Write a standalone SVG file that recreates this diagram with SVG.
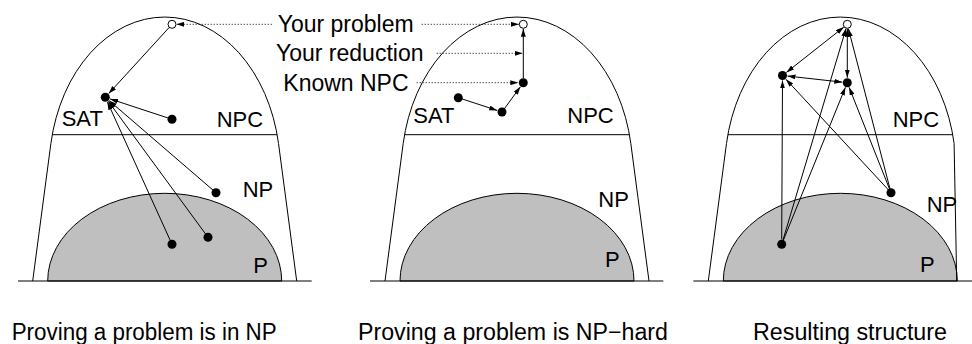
<svg xmlns="http://www.w3.org/2000/svg" width="972" height="344" viewBox="0 0 972 344">
<style>
.dome{fill:none;stroke:#000;stroke-width:1}
.pset{fill:#bfbfbf;stroke:#000;stroke-width:1}
.base{stroke:#000;stroke-width:1.2;fill:none}
.sep{stroke:#000;stroke-width:1;fill:none}
.e{stroke:#000;stroke-width:1;fill:none;marker-end:url(#ah)}
.d{stroke:#000;stroke-width:1;fill:none;marker-start:url(#ah);marker-end:url(#ah)}
.dot{stroke:#000;stroke-width:1;fill:none;stroke-dasharray:1 2;marker-end:url(#ah)}
.n{fill:#000}
.o{fill:#fff;stroke:#000;stroke-width:1}
.lbl{font-family:"Liberation Sans",Arial,sans-serif;font-size:22px;fill:#000}
.big{font-family:"Liberation Sans",Arial,sans-serif;font-size:23px;fill:#000}
</style>
<defs>
<marker id="ah" markerUnits="userSpaceOnUse" markerWidth="8" markerHeight="5" refX="8" refY="2.5" orient="auto-start-reverse" viewBox="0 0 8 5">
<path d="M0,0 L8,2.5 L0,5 z" fill="#000"/>
</marker>
</defs>

<g id="panel1-sets">
<path class="pset" d="M47.7,281 A117,87.7 0 0 1 281.7,281 Z"/>
<path class="dome" d="M32.7,281 L50.9,143.4 A115.6,153.3 0 0 1 278.5,143.4 L296.7,281"/>
<path class="sep" d="M52.2,134.7 H277.2"/>
<path class="base" d="M18,281 H311.7"/>
<text class="lbl" x="61.7" y="126">SAT</text>
<text class="lbl" x="216.7" y="126.7">NPC</text>
<text class="lbl" x="242.7" y="197.3">NP</text>
<text class="lbl" x="253.3" y="273.3">P</text>
</g>
<g id="panel2-sets">
<path class="pset" d="M400,281 A117,87.7 0 0 1 634,281 Z"/>
<path class="dome" d="M385,281 L403.2,143.4 A115.6,153.3 0 0 1 630.8,143.4 L649,281"/>
<path class="sep" d="M404.5,134.7 H629.5"/>
<path class="base" d="M370,281 H663.3"/>
<text class="lbl" x="413.3" y="122.7">SAT</text>
<text class="lbl" x="567.3" y="123.3">NPC</text>
<text class="lbl" x="598.3" y="207.3">NP</text>
<text class="lbl" x="605" y="266.7">P</text>
</g>
<g id="panel3-sets">
<path class="pset" d="M723.3,281 A117,87.7 0 0 1 957.3,281 Z"/>
<path class="dome" d="M708.3,281 L726.5,143.4 A115.6,153.3 0 0 1 954.1,143.4 L956.7,281"/>
<path class="sep" d="M727.8,134.7 H952.8"/>
<path class="base" d="M693.3,281 H972"/>
<text class="lbl" x="892.7" y="126.7">NPC</text>
<text class="lbl" x="926.7" y="211.7">NP</text>
<text class="lbl" x="920" y="271.7">P</text>
</g>

<g id="connectors">
<path class="e" d="M169.3,27.3 L108.7,93.6"/>
<path class="e" d="M172,119.3 L110.05,98.9"/>
<path class="e" d="M216,192.7 L109.1,100.6"/>
<path class="e" d="M208,237.3 L108.3,101.3"/>
<path class="e" d="M172,244.3 L107.4,101.9"/>
<path class="dot" d="M271.7,24.3 L176.3,24.3"/>
<path class="dot" d="M421.7,24.3 L519,24.3"/>
<path class="dot" d="M436.7,53.3 L522.6,53.3"/>
<path class="dot" d="M416.7,82.7 L518.3,82.7"/>
<path class="e" d="M523.3,78.2 L523.3,28.8"/>
<path class="e" d="M458.3,97.7 L497.25,110.45"/>
<path class="e" d="M502,112 L520.4,86.75"/>
<path class="d" d="M786.4,72.4 L843.8,27.1"/>
<path class="d" d="M847.3,28.8 L847.3,77.7"/>
<path class="d" d="M787.5,76.05 L842.3,82.15"/>
<path class="e" d="M781.7,239.3 L782.5,80.5"/>
<path class="e" d="M781.7,244.3 L846,28.6"/>
<path class="e" d="M781.7,244.3 L845.4,87.3"/>
<path class="e" d="M891,192.7 L848.4,28.7"/>
<path class="e" d="M891,192.7 L849.1,87.3"/>
<path class="e" d="M891,192.7 L785.9,79.2"/>
</g>

<g id="p1-your-problem"><circle class="o" cx="172" cy="24.3" r="4"/></g>
<g id="p1-sat"><circle class="n" cx="105.3" cy="97.3" r="4.5"/></g>
<g id="p1-npc"><circle class="n" cx="172" cy="119.3" r="4.5"/></g>
<g id="p1-np"><circle class="n" cx="216" cy="192.7" r="4.5"/></g>
<g id="p1-p1"><circle class="n" cx="208" cy="237.3" r="4.5"/></g>
<g id="p1-p2"><circle class="n" cx="172" cy="244.3" r="4.5"/></g>

<g id="p2-your-problem"><circle class="o" cx="523.3" cy="24.3" r="4"/></g>
<g id="p2-known-npc"><circle class="n" cx="523.3" cy="82.7" r="4.5"/></g>
<g id="p2-sat"><circle class="n" cx="458.3" cy="97.7" r="4.5"/></g>
<g id="p2-mid"><circle class="n" cx="502" cy="112" r="4.5"/></g>

<g id="p3-your-problem"><circle class="o" cx="847.3" cy="24.3" r="4"/></g>
<g id="p3-sat"><circle class="n" cx="782.5" cy="75.5" r="4.5"/></g>
<g id="p3-known-npc"><circle class="n" cx="847.3" cy="82.7" r="4.5"/></g>
<g id="p3-np"><circle class="n" cx="891" cy="192.7" r="4.5"/></g>
<g id="p3-p"><circle class="n" cx="781.7" cy="244.3" r="4.5"/></g>

<g id="legend">
<text class="big" x="277.7" y="31.5">Your problem</text>
<text class="big" x="276" y="60.8">Your reduction</text>
<text class="big" x="283.3" y="90.5">Known NPC</text>
</g>

<g id="captions">
<text class="big" x="11.7" y="340" textLength="265" lengthAdjust="spacingAndGlyphs">Proving a problem is in NP</text>
<text class="big" x="358" y="340" textLength="310" lengthAdjust="spacingAndGlyphs">Proving a problem is NP−hard</text>
<text class="big" x="753" y="340" textLength="194" lengthAdjust="spacingAndGlyphs">Resulting structure</text>
</g>
</svg>
